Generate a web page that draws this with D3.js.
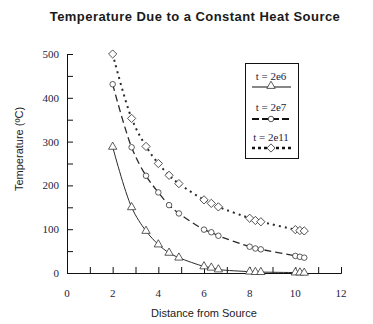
<!DOCTYPE html>
<html>
<head>
<meta charset="utf-8">
<script src="https://cdn.jsdelivr.net/npm/d3@7"></script>
<style>
  html, body { margin: 0; padding: 0; background: #fff; }
  svg { display: block; }
</style>
</head>
<body>
<svg id="chart" width="373" height="324"></svg>
<script>
// Distance from the heat source (same sample points for every series)
const distance = [2, 2.83, 3.46, 4, 4.47, 4.9, 6, 6.32, 6.63, 8, 8.25, 8.49, 10, 10.2, 10.39];

// Temperature (ºC) at each distance, one array per elapsed time
const temp2e6  = [288, 150, 96, 65, 46, 35, 15, 12, 8, 3, 2, 2, 1, 1, 0.5];
const temp2e7  = [431, 287, 222, 184, 155, 136, 99, 93, 85, 60, 56, 54, 39, 37, 35];
const temp2e11 = [500, 353, 289, 250, 223, 204, 167, 159, 151, 125, 120, 117, 99, 97, 96];

const seriesNames = ["t = 2e6", "t = 2e7", "t = 2e11"];

const xTicks = [0, 2, 4, 6, 8, 10, 12];
const yTicks = [0, 100, 200, 300, 400, 500];

const svg = d3.select("#chart");

const x = d3.scaleLinear().domain([0, 12]).range([67, 341]);
const y = d3.scaleLinear().domain([0, 500]).range([273, 54]);

const serif = "Liberation Serif";
const sans = "Liberation Sans";
const labelColor = "#1c1c3c";

// Title
svg.append("text")
  .attr("x", 195).attr("y", 21)
  .attr("text-anchor", "middle")
  .attr("font-family", sans)
  .attr("font-weight", "bold")
  .attr("font-size", 13)
  .attr("letter-spacing", 0.45)
  .attr("fill", "#1a1a1a")
  .text("Temperature Due to a Constant Heat Source");

// Axes: ticks point inward, labels drawn separately
const xAxis = d3.axisBottom(x).tickValues(d3.range(0, 13, 1)).tickSize(-6).tickFormat("");
const yAxis = d3.axisLeft(y).tickValues(d3.range(0, 501, 50)).tickSize(-6).tickFormat("");

const gx = svg.append("g").attr("transform", `translate(0,${y(0)})`).call(xAxis);
const gy = svg.append("g").attr("transform", `translate(${x(0)},0)`).call(yAxis);
[gx, gy].forEach(g => {
  g.select(".domain").attr("stroke", "#111").attr("stroke-width", 1);
  g.selectAll(".tick line").attr("stroke", "#111").attr("stroke-width", 1);
});

svg.append("g").selectAll("text").data(xTicks).join("text")
  .attr("x", d => x(d)).attr("y", 297)
  .attr("text-anchor", "middle")
  .attr("font-family", serif).attr("font-size", 11)
  .attr("fill", labelColor)
  .text(d => d);

svg.append("g").selectAll("text").data(yTicks).join("text")
  .attr("x", 59).attr("y", d => y(d) + 4)
  .attr("text-anchor", "end")
  .attr("font-family", serif).attr("font-size", 11)
  .attr("fill", labelColor)
  .text(d => d);

// Axis titles
svg.append("text")
  .attr("x", 204).attr("y", 317)
  .attr("text-anchor", "middle")
  .attr("font-family", sans).attr("font-size", 11)
  .attr("fill", "#222")
  .text("Distance from Source");

svg.append("text")
  .attr("transform", "translate(23,149) rotate(-90)")
  .attr("text-anchor", "middle")
  .attr("font-family", sans).attr("font-size", 11)
  .attr("fill", "#222")
  .text("Temperature (ºC)");

// Series styles; the diamond is a square turned by 45 degrees
const styles = [
  { values: temp2e6,  symbol: d3.symbolTriangle, size: 30, rotate: 0,  dash: null,  width: 1,   legendWidth: 1.2, legendDash: null },
  { values: temp2e7,  symbol: d3.symbolCircle,   size: 24, rotate: 0,  dash: "7,4", width: 1.3, legendWidth: 2.2, legendDash: "7,3" },
  { values: temp2e11, symbol: d3.symbolSquare,   size: 34, rotate: 45, dash: "2,4", width: 2,   legendWidth: 2.6, legendDash: "3,3" }
];

const line = d3.line()
  .x((d, i) => x(distance[i]))
  .y(d => y(d))
  .curve(d3.curveCatmullRom.alpha(0.5));

styles.forEach(s => {
  svg.append("path")
    .datum(s.values)
    .attr("d", line)
    .attr("fill", "none")
    .attr("stroke", "#2a2a2a")
    .attr("stroke-width", s.width)
    .attr("stroke-dasharray", s.dash);
});

styles.forEach(s => {
  svg.append("g").selectAll("path").data(s.values).join("path")
    .attr("transform", (d, i) => `translate(${x(distance[i])},${y(d)}) rotate(${s.rotate})`)
    .attr("d", d3.symbol().type(s.symbol).size(s.size))
    .attr("fill", "#fff")
    .attr("stroke", "#333")
    .attr("stroke-width", 0.8);
});

// Legend
const legend = svg.append("g");
legend.append("rect")
  .attr("x", 245.5).attr("y", 63.5)
  .attr("width", 53).attr("height", 95)
  .attr("fill", "#fff").attr("stroke", "#111").attr("stroke-width", 1);

const legendTextY = [80, 111, 141];
const legendLineY = [87, 119, 148];
styles.forEach((s, i) => {
  legend.append("text")
    .attr("x", 271).attr("y", legendTextY[i])
    .attr("text-anchor", "middle")
    .attr("font-family", serif).attr("font-size", 11)
    .attr("fill", labelColor)
    .text(seriesNames[i]);
  legend.append("line")
    .attr("x1", 252).attr("x2", 291)
    .attr("y1", legendLineY[i]).attr("y2", legendLineY[i])
    .attr("stroke", "#111")
    .attr("stroke-width", s.legendWidth)
    .attr("stroke-dasharray", s.legendDash);
  legend.append("path")
    .attr("transform", `translate(271,${legendLineY[i] - (i === 0 ? 1 : 0)}) rotate(${s.rotate})`)
    .attr("d", d3.symbol().type(s.symbol).size(s.size))
    .attr("fill", "#fff")
    .attr("stroke", "#333")
    .attr("stroke-width", 0.8);
});
</script>
</body>
</html>
